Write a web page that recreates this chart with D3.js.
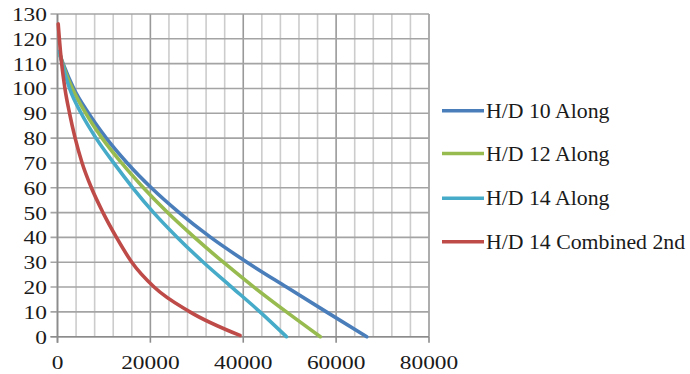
<!DOCTYPE html>
<html>
<head>
<meta charset="utf-8">
<script src="https://cdn.jsdelivr.net/npm/d3@7/dist/d3.min.js"></script>
<style>
  html, body { margin: 0; padding: 0; background: #ffffff; }
  svg { display: block; }
  text { font-family: "Liberation Serif", "Times New Roman", serif; fill: #1a1a1a; }
</style>
</head>
<body>
<svg id="chart" width="690" height="374"></svg>
<script>
// ---- data ----
const seriesNames = ["H/D 10 Along", "H/D 12 Along", "H/D 14 Along", "H/D 14 Combined 2nd"];
const seriesColors = ["#4a7ebb", "#98bb50", "#46abc8", "#be4b48"];

const hd10X = [600, 1200, 3500, 6700, 10500, 15000, 20200, 26200, 33000, 40800, 49300, 57900, 66600];
const hd10Y = [113, 110, 100, 90, 80, 70, 60, 50, 40, 30, 20, 10, 0];

const hd12X = [500, 1100, 3200, 6100, 9600, 13800, 18500, 23700, 29500, 35700, 42300, 49300, 56600];
const hd12Y = [114, 110, 100, 90, 80, 70, 60, 50, 40, 30, 20, 10, 0];

const hd14X = [400, 1000, 2600, 5100, 8300, 12100, 16200, 20700, 25800, 31400, 37500, 43600, 49300];
const hd14Y = [115, 110, 100, 90, 80, 70, 60, 50, 40, 30, 20, 10, 0];

const combX = [150, 400, 900, 1600, 2600, 3800, 5300, 7300, 9800, 12700, 16000, 20800, 28500, 39300];
const combY = [126, 120, 110, 100, 90, 80, 70, 60, 50, 40, 30, 20, 10, 0.5];

const xTickLabels = [0, 20000, 40000, 60000, 80000];
const yTickLabels = [0, 10, 20, 30, 40, 50, 60, 70, 80, 90, 100, 110, 120, 130];

// ---- layout ----
const svg = d3.select("#chart");
const plotLeft = 57.5, plotRight = 429, plotTop = 14, plotBottom = 336.7;

const x = d3.scaleLinear().domain([0, 80000]).range([plotLeft, plotRight]);
const y = d3.scaleLinear().domain([0, 130]).range([plotBottom, plotTop]);

// vertical gridlines every 4000 (darker at 20000 multiples)
const minorX = d3.range(0, 80001, 4000);
svg.append("g").selectAll("line").data(minorX).join("line")
  .attr("x1", d => x(d)).attr("x2", d => x(d))
  .attr("y1", y(130)).attr("y2", y(0))
  .attr("stroke", d => (d % 20000 === 0) ? "#999999" : "#cccccc")
  .attr("stroke-width", 1.6);

// horizontal gridlines every 10
svg.append("g").selectAll("line").data(yTickLabels).join("line")
  .attr("x1", x(0) - 7).attr("x2", x(80000))
  .attr("y1", d => y(d)).attr("y2", d => y(d))
  .attr("stroke", "#a4a4a4")
  .attr("stroke-width", 1.6);

// axis lines
svg.append("line").attr("x1", x(0)).attr("x2", x(0)).attr("y1", y(130)).attr("y2", y(0) + 6)
  .attr("stroke", "#8c8c8c").attr("stroke-width", 1.6);
svg.append("line").attr("x1", x(0) - 7).attr("x2", x(80000)).attr("y1", y(0)).attr("y2", y(0))
  .attr("stroke", "#8c8c8c").attr("stroke-width", 1.6);

// x major tick marks
svg.append("g").selectAll("line").data(xTickLabels).join("line")
  .attr("x1", d => x(d)).attr("x2", d => x(d))
  .attr("y1", y(0)).attr("y2", y(0) + 6)
  .attr("stroke", "#8c8c8c").attr("stroke-width", 1.6);

// y tick labels
svg.append("g").selectAll("text").data(yTickLabels).join("text")
  .attr("transform", d => `translate(47,${y(d) + 7}) scale(1.3,1)`)
  .attr("text-anchor", "end")
  .attr("font-size", 18)
  .text(d => d);

// x tick labels
svg.append("g").selectAll("text").data(xTickLabels).join("text")
  .attr("transform", d => `translate(${x(d)},369) scale(1.3,1)`)
  .attr("text-anchor", "middle")
  .attr("font-size", 18)
  .text(d => d);

// series lines
const allSeries = [
  { xs: hd10X, ys: hd10Y },
  { xs: hd12X, ys: hd12Y },
  { xs: hd14X, ys: hd14Y },
  { xs: combX, ys: combY }
];
const line = d3.line()
  .x(d => x(d[0]))
  .y(d => y(d[1]))
  .curve(d3.curveMonotoneX);

allSeries.forEach((s, i) => {
  const pts = s.xs.map((v, j) => [v, s.ys[j]]);
  svg.append("path")
    .datum(pts)
    .attr("d", line)
    .attr("fill", "none")
    .attr("stroke", seriesColors[i])
    .attr("stroke-width", 3.6)
    .attr("stroke-linejoin", "round")
    .attr("stroke-linecap", "round");
});

// legend
const legendY = [110.7, 153.5, 198.3, 241.7];
const lg = svg.append("g");
seriesNames.forEach((name, i) => {
  lg.append("line")
    .attr("x1", 442).attr("x2", 484)
    .attr("y1", legendY[i]).attr("y2", legendY[i])
    .attr("stroke", seriesColors[i]).attr("stroke-width", 3.6);
  lg.append("text")
    .attr("transform", `translate(486,${legendY[i] + 7}) scale(1.09,1)`)
    .attr("font-size", 20)
    .text(name);
});
</script>
</body>
</html>
